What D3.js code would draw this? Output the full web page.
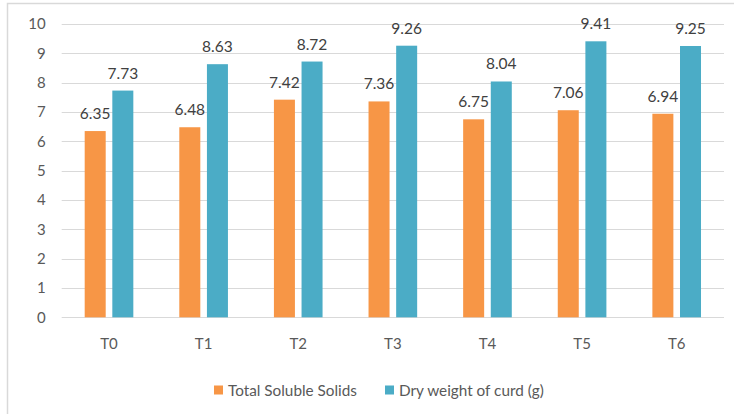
<!DOCTYPE html>
<html><head><meta charset="utf-8">
<script src="https://cdn.jsdelivr.net/npm/d3@7"></script>
<style>
html,body{margin:0;padding:0;background:#fff;}
svg{display:block;font-family:Lato,"Open Sans",sans-serif;}
</style></head>
<body><svg id="c" width="734" height="414"></svg>
<script>
const categories = ["T0","T1","T2","T3","T4","T5","T6"];
const tss = [6.35,6.48,7.42,7.36,6.75,7.06,6.94];
const dryWeight = [7.73,8.63,8.72,9.26,8.04,9.41,9.25];
const seriesNames = ["Total Soluble Solids","Dry weight of curd (g)"];
const yTicks = [0,1,2,3,4,5,6,7,8,9,10];
const colors = ["#F79646","#4BACC6"];

(function(){
const svg = d3.select("#c");
// outer border
svg.append("rect").attr("x",7.5).attr("y",3.5).attr("width",740).attr("height",420)
  .attr("fill","#fff").attr("stroke","#D9D9D9").attr("stroke-width",1.5);

const pLeft = 61.7, pRight = 724, pTop = 24, pBottom = 317.3;
const x = d3.scaleBand().domain(categories).range([pLeft,pRight]).padding(0);
const y = d3.scaleLinear().domain([0,10]).range([pBottom,pTop]);

const grid = svg.append("g");
yTicks.forEach(t=>{
  grid.append("line").attr("x1",pLeft).attr("x2",pRight).attr("y1",Math.round(y(t))+0.5).attr("y2",Math.round(y(t))+0.5)
    .attr("stroke","#D9D9D9").attr("stroke-width",1);
});

const yAxis = d3.axisLeft(y).tickValues(yTicks).tickSize(0).tickPadding(16);
const ya = svg.append("g").attr("transform",`translate(${pLeft},0)`).call(yAxis);
ya.select(".domain").remove();
ya.selectAll("text").attr("font-size",15).attr("fill","#595959").style("font-family","Lato,sans-serif");

const xAxis = d3.axisBottom(x).tickSize(0).tickPadding(21);
const xa = svg.append("g").attr("transform",`translate(0,${pBottom})`).call(xAxis);
xa.select(".domain").remove();
xa.selectAll("text").attr("font-size",15).attr("fill","#595959").style("font-family","Lato,sans-serif");

const bw = x.bandwidth();
const barW = bw*0.222, gap = bw*0.07;
const series = [tss, dryWeight];
series.forEach((vals,si)=>{
  const off = si===0 ? (bw/2 - gap/2 - barW) : (bw/2 + gap/2);
  const g = svg.append("g");
  g.selectAll("rect").data(vals).join("rect")
    .attr("x",(d,i)=>x(categories[i])+off)
    .attr("y",d=>y(d))
    .attr("width",barW)
    .attr("height",d=>pBottom-y(d))
    .attr("fill",colors[si]);
  g.selectAll("text").data(vals).join("text")
    .attr("x",(d,i)=>x(categories[i])+off+barW/2)
    .attr("y",d=>y(d)-12)
    .attr("text-anchor","middle")
    .attr("font-size",15.5)
    .attr("fill","#404040")
    .text(d=>d.toFixed(2));
});

// legend
const legend = svg.append("g").attr("transform","translate(0,390)");
const lx = [214, 385];
seriesNames.forEach((n,i)=>{
  legend.append("rect").attr("x",lx[i]).attr("y",-4.5).attr("width",9).attr("height",9).attr("fill",colors[i]);
  legend.append("text").attr("x",lx[i]+14).attr("y",5.5).attr("font-size",15.3).attr("fill","#595959").text(n);
});
})();
</script></body></html>
